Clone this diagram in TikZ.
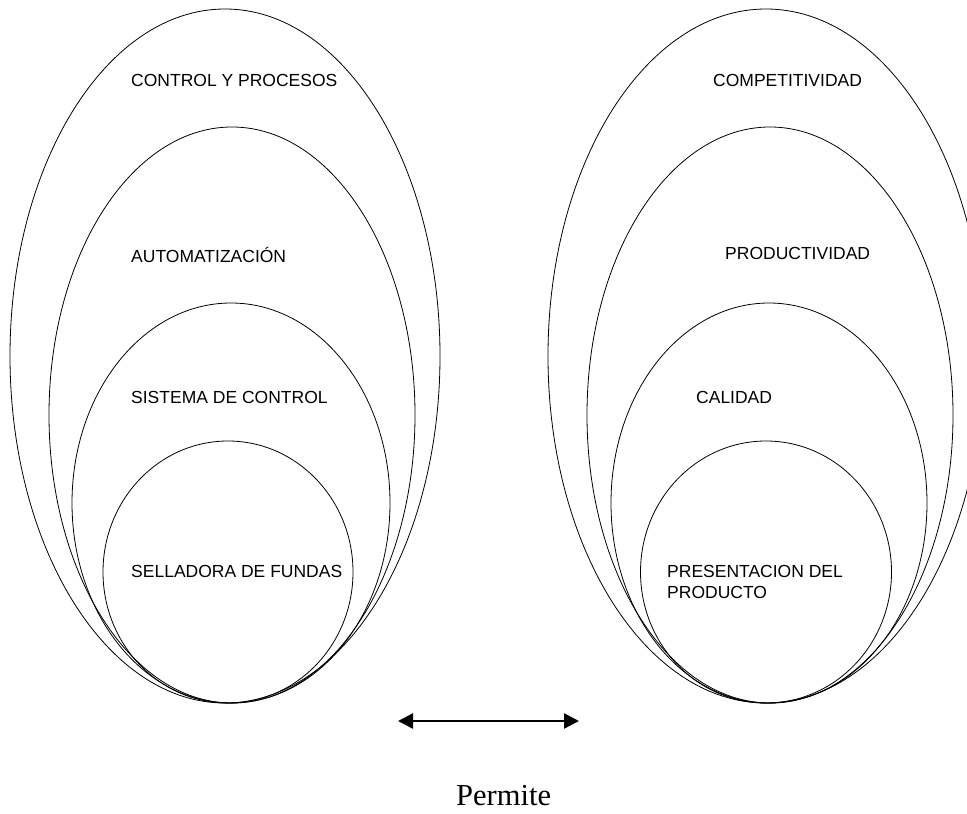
\documentclass[tikz,border=0pt]{standalone}
\usepackage{fontspec}
\setmainfont{Liberation Serif}
\newfontfamily\arialf{Liberation Sans}
\usetikzlibrary{shapes.geometric,arrows.meta}
\tikzset{
  ring/.style={draw=black, line width=0.8pt, ellipse, inner sep=0pt},
  lab/.style={anchor=base west, inner sep=0pt, font=\arialf\fontsize{17.5}{21}\selectfont, align=left},
  dblarrow/.style={line width=2.4pt, {Triangle[length=15pt,width=15pt]}-{Triangle[length=15pt,width=15pt]}}
}
\begin{document}
\begin{tikzpicture}[x=1pt,y=-1pt]
\useasboundingbox (0,0) rectangle (967,814);
\clip (0,0) rectangle (967,814);
% left group
\node[ring, minimum width=430pt, minimum height=694pt] (l1) at (225,356) {};
\node[ring, minimum width=366pt, minimum height=576pt] (l2) at (232,415) {};
\node[ring, minimum width=318pt, minimum height=400pt] (l3) at (231,503) {};
\node[ring, minimum width=250pt, minimum height=262pt] (l4) at (228,572) {};
% right group
\node[ring, minimum width=436pt, minimum height=694pt] (r1) at (766,356) {};
\node[ring, minimum width=366pt, minimum height=576pt] (r2) at (770,415) {};
\node[ring, minimum width=316pt, minimum height=400pt] (r3) at (769,503) {};
\node[ring, minimum width=251pt, minimum height=262pt] (r4) at (766,572) {};
% labels
\node[lab] (t1) at (131,86) {CONTROL Y PROCESOS};
\node[lab] (t2) at (131,262) {AUTOMATIZACIÓN};
\node[lab] (t3) at (131,403) {SISTEMA DE CONTROL};
\node[lab] (t4) at (131,577) {SELLADORA DE FUNDAS};
\node[lab] (u1) at (713,86) {COMPETITIVIDAD};
\node[lab] (u2) at (725,259) {PRODUCTIVIDAD};
\node[lab] (u3) at (696,403) {CALIDAD};
\node[lab] (u4) at (667,598) {PRESENTACION DEL\\PRODUCTO};
% arrow
\coordinate (al) at (398,721);
\coordinate (ar) at (579,721);
\draw[dblarrow] (al) -- (ar);
\node[anchor=base west, inner sep=0pt, font=\fontsize{30.5}{36}\selectfont] (perm) at (456,805) {Permite};
\end{tikzpicture}
\end{document}
